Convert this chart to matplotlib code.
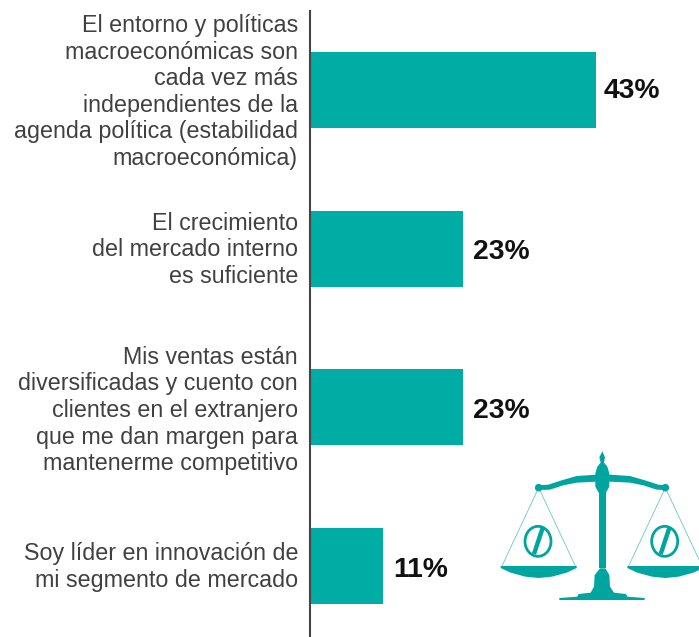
import matplotlib
matplotlib.use('Agg')
import matplotlib.pyplot as plt
from matplotlib.patches import Ellipse, Polygon, Circle

categories = [
    "El entorno y políticas\nmacroeconómicas son\ncada vez más\nindependientes de la\nagenda política (estabilidad\nmacroeconómica)",
    "El crecimiento\ndel mercado interno\nes suficiente",
    "Mis ventas están\ndiversificadas y cuento con\nclientes en el extranjero\nque me dan margen para\nmantenerme competitivo",
    "Soy líder en innovación de\nmi segmento de mercado",
]
values = [43, 23, 23, 11]
value_labels = ["43%", "23%", "23%", "11%"]

teal = "#00ada5"
icon_teal = "#00a5a0"

plt.rcParams['font.family'] = ['Liberation Sans', 'DejaVu Sans']

fig = plt.figure(figsize=(6.99, 6.37), dpi=100)

# Bars
ax = fig.add_axes([310 / 699, 0, 389 / 699, 1])
ax.barh(range(4), values, height=0.48, color=teal)
ax.set_xlim(0, 389 / 6.65)
ax.set_ylim(3.447, -0.567)
for s in ['top', 'right', 'bottom', 'left']:
    ax.spines[s].set_visible(False)
ax.set_xticks([])
ax.set_yticks([])
ax.patch.set_alpha(0)

for i, lab in enumerate(value_labels):
    # first label sits a little higher than the others
    dy = -0.5 if i == 0 else -2.5
    dx = 5.5 if i == 0 else 7
    ax.annotate(lab, (values[i], i), xytext=(dx, dy), textcoords='offset points',
                va='center', ha='left', fontsize=20.3, fontweight='bold', color='#111111')

# Category labels and axis line, in pixel coords
ov = fig.add_axes([0, 0, 1, 1])
ov.set_xlim(0, 699)
ov.set_ylim(637, 0)
ov.axis('off')
ov.patch.set_alpha(0)
ov.plot([310, 310], [10, 637], color='#444444', lw=1.5, solid_capstyle='butt')

label_y = [92, 250, 410.5, 567]
for y, lab in zip(label_y, categories):
    ov.text(298, y, lab, ha='right', va='center', fontsize=16.75,
            color='#404040', linespacing=1.195)

# Scale icon
c = icon_teal


def zx(x):
    return 490 + x / 3


def zy(y):
    return 440 + y / 3


def poly(pts, **kw):
    ov.add_patch(Polygon([(zx(a), zy(b)) for a, b in pts], closed=True,
                         color=c, lw=0, **kw))


# beam
poly([(146, 136), (175, 134), (215, 121), (260, 108), (320, 104), (360, 104), (420, 108),
      (465, 121), (505, 134), (526, 136), (526, 150), (500, 149), (460, 136), (420, 128),
      (360, 125), (320, 125), (260, 128), (220, 136), (180, 149), (146, 150)])
# finial and hub
poly([(337, 34), (345, 52), (342, 68), (352, 80), (358, 100), (358, 140), (348, 158),
      (326, 158), (316, 140), (316, 100), (322, 80), (332, 68), (328, 52)])
# post
poly([(327, 155), (349, 155), (349, 385), (327, 385)])
# base
poly([(330, 385), (346, 385), (358, 405), (360, 440), (372, 458), (408, 462), (412, 470),
      (464, 474), (464, 480), (208, 480), (208, 474), (262, 470), (266, 462), (302, 458),
      (312, 440), (314, 405)])
# pivots
ov.add_patch(Circle((zx(146), zy(143)), 3.8, color=c, lw=0))
ov.add_patch(Circle((zx(526), zy(143)), 3.8, color=c, lw=0))

for cx, left, right in [(146, 32, 260), (526, 412, 640)]:
    # strings
    ov.plot([zx(cx), zx(left + 4)], [zy(143), zy(378)], color=c, lw=0.5, alpha=0.7)
    ov.plot([zx(cx), zx(right - 4)], [zy(143), zy(378)], color=c, lw=0.5, alpha=0.7)
    # pan
    mid = (left + right) / 2
    poly([(left, 378), (right, 378), (right, 384), (right - 30, 398), (mid + 40, 410),
          (mid, 414), (mid - 40, 410), (left + 30, 398), (left, 384)])
    # zero-slash mark
    ov.add_patch(Ellipse((zx(cx - 2), zy(304)), 26, 30, fill=False, ec=c, lw=2))
    ov.plot([zx(cx - 14), zx(cx + 12)], [zy(342), zy(264)], color=c, lw=3.2, solid_capstyle='butt')

ov.set_xlim(0, 699)
ov.set_ylim(637, 0)

plt.savefig('out.png', dpi=100)
